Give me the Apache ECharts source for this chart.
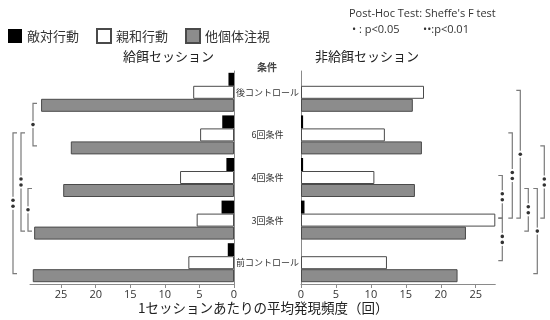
<!DOCTYPE html>
<html>
<head>
<meta charset="utf-8">
<script src="https://cdn.jsdelivr.net/npm/echarts@6/dist/echarts.min.js"></script>
<style>
  html, body { margin: 0; padding: 0; background: #fff; }
  #chart { width: 550px; height: 320px; }
</style>
</head>
<body>
<div id="chart"></div>
<script>
// 条件（上から順に）
const conditions = ['後コントロール', '6回条件', '4回条件', '3回条件', '前コントロール'];
const behaviours = ['敵対行動', '親和行動', '他個体注視'];

// 給餌セッション：1セッションあたりの平均発現頻度（回）
const feedHostile     = [0.8, 1.7, 1.1, 1.8, 0.9];
const feedAffiliative = [5.9, 4.9, 7.8, 5.4, 6.6];
const feedGaze        = [27.9, 23.6, 24.7, 28.9, 29.1];

// 非給餌セッション
const nonFeedHostile     = [0, 0.3, 0.3, 0.5, 0];
const nonFeedAffiliative = [17.6, 12.0, 10.5, 27.8, 12.3];
const nonFeedGaze        = [16.0, 17.3, 16.3, 23.6, 22.4];

// 目盛ラベル
const tickLabels = [0, 5, 10, 15, 20, 25];
const feedAxisMax = 29.5;
const nonFeedAxisMax = 27.8;

// 多重比較の結果 [条件, 行動] 同士, 有意水準 (1: p<0.05, 2: p<0.01)
const feedTests = [
  { a: [0, 2], b: [1, 2], level: 1 },
  { a: [1, 1], b: [4, 2], level: 2 },
  { a: [1, 1], b: [3, 2], level: 2 },
  { a: [2, 2], b: [3, 2], level: 1 }
];
const nonFeedTests = [
  { a: [3, 1], b: [2, 1], level: 2 },
  { a: [3, 1], b: [4, 1], level: 2 },
  { a: [1, 1], b: [3, 1], level: 2 },
  { a: [0, 1], b: [3, 1], level: 1 },
  { a: [2, 2], b: [3, 2], level: 2 },
  { a: [2, 2], b: [4, 2], level: 1 },
  { a: [1, 2], b: [3, 1], level: 2 }
];

const JP = '"Noto Sans CJK JP", "Noto Sans", sans-serif';
const LATIN = '"Open Sans", "Liberation Sans", sans-serif';
const BAR_W = 13;
const EDGE = '#4a4a4a';
const styles = [
  { color: '#000000', borderWidth: 0 },
  { color: '#ffffff', borderColor: EDGE, borderWidth: 1 },
  { color: '#8c8c8c', borderColor: EDGE, borderWidth: 1 }
];

const feedData = [feedHostile, feedAffiliative, feedGaze];
const nonFeedData = [nonFeedHostile, nonFeedAffiliative, nonFeedGaze];

function makeSeries(dataSets, axisIdx) {
  return dataSets.map((vals, i) => ({
    name: behaviours[i],
    type: 'bar',
    xAxisIndex: axisIdx,
    yAxisIndex: axisIdx,
    data: vals,
    barWidth: BAR_W,
    barGap: '0%',
    itemStyle: styles[i],
    emphasis: { disabled: true },
    animation: false
  }));
}

const tickFormatter = v => (tickLabels.indexOf(v) >= 0 ? String(v) : '');

const valueAxis = (idx, max, inverse) => ({
  type: 'value',
  gridIndex: idx,
  min: 0,
  max: max,
  interval: 5,
  inverse: inverse,
  axisLine: { show: true, lineStyle: { color: '#8a8a8a', width: 1 } },
  axisTick: { show: true, length: 4, lineStyle: { color: '#8a8a8a' } },
  splitLine: { show: false },
  axisLabel: {
    formatter: tickFormatter,
    color: '#333',
    fontSize: 11,
    margin: 5,
    fontFamily: LATIN,
    showMaxLabel: false
  }
});

const option = {
  animation: false,
  textStyle: { fontFamily: JP },
  legend: {
    data: behaviours,
    left: 3,
    top: 23,
    icon: 'rect',
    itemWidth: 14,
    itemHeight: 14,
    itemGap: 17,
    textStyle: { fontSize: 13, color: '#333', fontFamily: JP },
    selectedMode: false
  },
  grid: [
    { left: 30, width: 204, top: 71, height: 213 },
    { left: 301, width: 194.3, top: 71, height: 213 }
  ],
  xAxis: [
    valueAxis(0, feedAxisMax, true),
    valueAxis(1, nonFeedAxisMax, false)
  ],
  yAxis: [
    {
      type: 'category',
      gridIndex: 0,
      data: conditions,
      inverse: true,
      position: 'right',
      axisLine: { show: true, lineStyle: { color: '#8a8a8a' } },
      axisTick: { show: false },
      axisLabel: {
        align: 'center',
        margin: 33.5,
        fontSize: 9,
        color: '#333',
        fontFamily: JP
      }
    },
    {
      type: 'category',
      gridIndex: 1,
      data: conditions,
      inverse: true,
      position: 'left',
      axisLine: { show: true, lineStyle: { color: '#8a8a8a' } },
      axisTick: { show: false },
      axisLabel: { show: false }
    }
  ],
  series: makeSeries(feedData, 0).concat(makeSeries(nonFeedData, 1)),
  graphic: [
    { type: 'text', left: 123, top: 50, style: { text: '給餌セッション', font: '13px ' + JP, fill: '#222' } },
    { type: 'text', left: 315, top: 50, style: { text: '非給餌セッション', font: '13px ' + JP, fill: '#222' } },
    { type: 'text', left: 257, top: 62, style: { text: '条件', font: 'bold 10px ' + JP, fill: '#444' } },
    { type: 'text', left: 349, top: 8, style: { text: "Post-Hoc Test: Sheffe's F test", font: '11px ' + LATIN, fill: '#333' } },
    { type: 'text', left: 352, top: 24, style: { text: '• : p<0.05', font: '11px ' + LATIN, fill: '#333' } },
    { type: 'text', left: 423, top: 24, style: { text: '••:p<0.01', font: '11px ' + LATIN, fill: '#333' } },
    { type: 'text', left: 138, top: 301, style: { text: '1セッションあたりの平均発現頻度（回）', font: '13.5px ' + JP, fill: '#222' } }
  ]
};

const chart = echarts.init(document.getElementById('chart'), null, { renderer: 'canvas' });
chart.setOption(option);

// 有意差の括弧
function barY(axisIdx, pair) {
  const c = chart.convertToPixel({ yAxisIndex: axisIdx }, conditions[pair[0]]);
  return c + (pair[1] - 1) * BAR_W - 2;
}

const feedLanes = [3, -17, -9, -2];              // 左グリッド左端からのずれ
const nonFeedLanes = [7, 7, 17, 25, 33, 42, 49]; // 右グリッド右端からのずれ
const LINE = '#7a7a7a';
const extra = [];

function addBracket(x, y1, y2, dir, level) {
  const t = 4 * dir;
  extra.push({
    type: 'polyline', silent: true, z: 10,
    shape: { points: [[x + t, y1], [x, y1], [x, y2], [x + t, y2]] },
    style: { stroke: LINE, lineWidth: 1.2, fill: null }
  });
  const mid = (y1 + y2) / 2;
  const ys = level === 1 ? [mid] : [mid - 3, mid + 3];
  extra.push({
    type: 'rect', silent: true, z: 11,
    shape: { x: x - 2.5, y: ys[0] - 3.5, width: 5, height: ys[ys.length - 1] - ys[0] + 7 },
    style: { fill: '#fff' }
  });
  ys.forEach(y => extra.push({
    type: 'circle', silent: true, z: 12,
    shape: { cx: x, cy: y, r: 1.8 },
    style: { fill: '#333' }
  }));
}

const leftEdge = chart.convertToPixel({ xAxisIndex: 0 }, feedAxisMax);
const rightEdge = chart.convertToPixel({ xAxisIndex: 1 }, nonFeedAxisMax);

feedTests.forEach((t, i) => {
  addBracket(leftEdge + feedLanes[i], barY(0, t.a), barY(0, t.b), 1, t.level);
});
nonFeedTests.forEach((t, i) => {
  const y1 = barY(1, t.a), y2 = barY(1, t.b);
  addBracket(rightEdge + nonFeedLanes[i], Math.min(y1, y2), Math.max(y1, y2), -1, t.level);
});

chart.setOption({ graphic: option.graphic.concat(extra) });
</script>
</body>
</html>
